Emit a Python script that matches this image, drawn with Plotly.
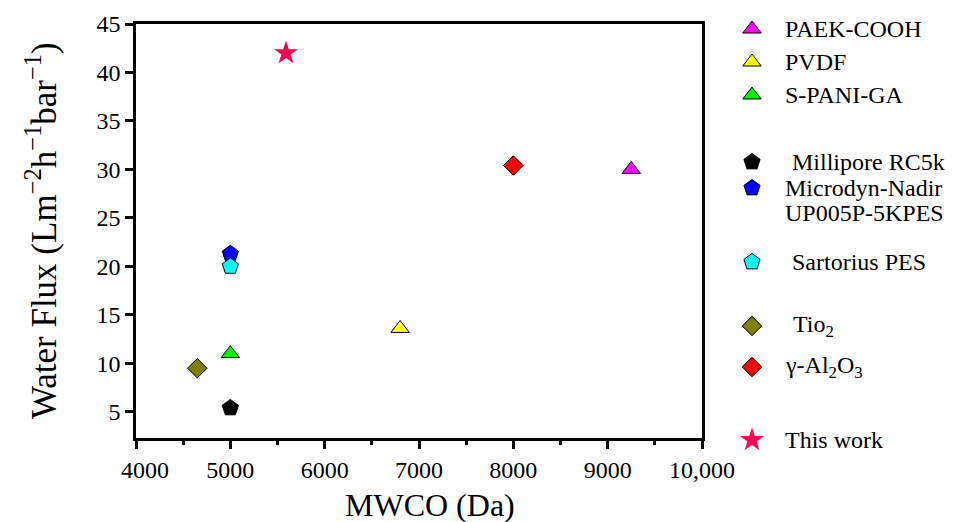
import plotly.graph_objects as go

# ---------------- Data ----------------
names = ["PAEK-COOH", "PVDF", "S-PANI-GA",
         "Millipore RC5k", "Microdyn-Nadir", "Sartorius PES",
         "Tio<sub>2</sub>", "γ-Al<sub>2</sub>O<sub>3</sub>",
         "This work"]
mwco = [9250, 6800, 5000, 5000, 5000, 5000, 4650, 8000, 5590]
flux = [30.0, 13.6, 11.0, 5.4, 21.3, 20.0, 9.5, 30.4, 42.0]
extra_line = {4: "UP005P-5KPES"}
colors = ["#FF00FF", "#FFFF00", "#00F000", "#000000", "#0000FF", "#00FFFF",
          "#808000", "#FF0000", "#FF0050"]
symbols = ["triangle-up", "triangle-up", "triangle-up",
           "pentagon", "pentagon", "pentagon",
           "diamond", "diamond", "star"]

x_tickvals = [4000, 5000, 6000, 7000, 8000, 9000, 10000]
x_ticktext = ["\u00a0\u00a0\u00a04000", "5000", "6000", "7000", "8000", "9000", "10,000"]
y_tickvals = [5, 10, 15, 20, 25, 30, 35, 40, 45]

# ---------------- Layout constants (pixels) ----------------
W, H = 958, 522
PL, PR, PT, PB = 136, 702, 24, 438   # plot-area box in pixels
FONT = "Liberation Serif"
sizes = {"triangle-up": 16, "pentagon": 17, "diamond": 15, "star": 18}

legend_row_y = [29, 62, 95, 162, 188, 262, 326, 367, 440]
legend_text_x = [783, 783, 783, 790, 783, 790, 791, 783, 783]
legend_marker_x = 752
legend_line2_dy = 25

fig = go.Figure()

# data points
for i, n in enumerate(names):
    lw = 0 if symbols[i] == "star" else 1
    fig.add_trace(go.Scatter(
        x=[mwco[i]], y=[flux[i]], mode="markers", name=n, showlegend=False,
        marker=dict(symbol=symbols[i], size=sizes[symbols[i]], color=colors[i],
                    opacity=1, line=dict(color="#000000", width=lw)),
        xaxis="x", yaxis="y",
    ))

# manual legend symbols (on a full-figure pixel helper axis)
for i, n in enumerate(names):
    lw = 0 if symbols[i] == "star" else 1
    fig.add_trace(go.Scatter(
        x=[legend_marker_x], y=[legend_row_y[i]], mode="markers",
        showlegend=False, hoverinfo="skip", cliponaxis=False,
        marker=dict(symbol=symbols[i], size=sizes[symbols[i]], color=colors[i],
                    opacity=1, line=dict(color="#000000", width=lw)),
        xaxis="x2", yaxis="y2",
    ))

annotations = []
def add_text(x, y, text, size, anchor="left", angle=0):
    annotations.append(dict(
        x=x, y=y, xref="x2", yref="y2", text=text, showarrow=False,
        xanchor=anchor, yanchor="middle", textangle=angle,
        font=dict(family=FONT, size=size, color="black"),
    ))

for i, n in enumerate(names):
    add_text(legend_text_x[i], legend_row_y[i], n, 24)
    if i in extra_line:
        add_text(legend_text_x[i], legend_row_y[i] + legend_line2_dy, extra_line[i], 24)

# axis titles
add_text(430, 505, "MWCO (Da)", 32, anchor="center")
add_text(41, (PT + PB) / 2, "Water Flux (Lm<sup>−2</sup>h<sup>−1</sup>bar<sup>−1</sup>)",
         35, anchor="center", angle=-90)

axis_common = dict(
    showline=True, linecolor="black", linewidth=2.6, mirror=True,
    ticks="outside", tickcolor="black", tickwidth=2.6, ticklen=8,
    showgrid=False, zeroline=False, automargin=False,
    tickfont=dict(family=FONT, size=24, color="black"),
)

fig.update_layout(
    width=W, height=H,
    margin=dict(l=0, r=0, t=0, b=0, pad=0, autoexpand=False),
    paper_bgcolor="white", plot_bgcolor="rgba(0,0,0,0)",
    showlegend=False,
    xaxis=dict(domain=[PL / W, PR / W], range=[4000, 10000],
               tickvals=x_tickvals, ticktext=x_ticktext,
               minor=dict(ticks="outside", dtick=500, tick0=4000, ticklen=4,
                          tickwidth=2.6, tickcolor="black"),
               anchor="y", **axis_common),
    yaxis=dict(domain=[1 - PB / H, 1 - PT / H], range=[2.3, 45], tickvals=y_tickvals,
               anchor="x", **axis_common),
    xaxis2=dict(domain=[0, 1], range=[0, W], visible=False,
                anchor="y2", fixedrange=True),
    yaxis2=dict(domain=[0, 1], range=[H, 0], visible=False,
                anchor="x2", fixedrange=True),
    annotations=annotations,
)

fig.write_html("out.html")
